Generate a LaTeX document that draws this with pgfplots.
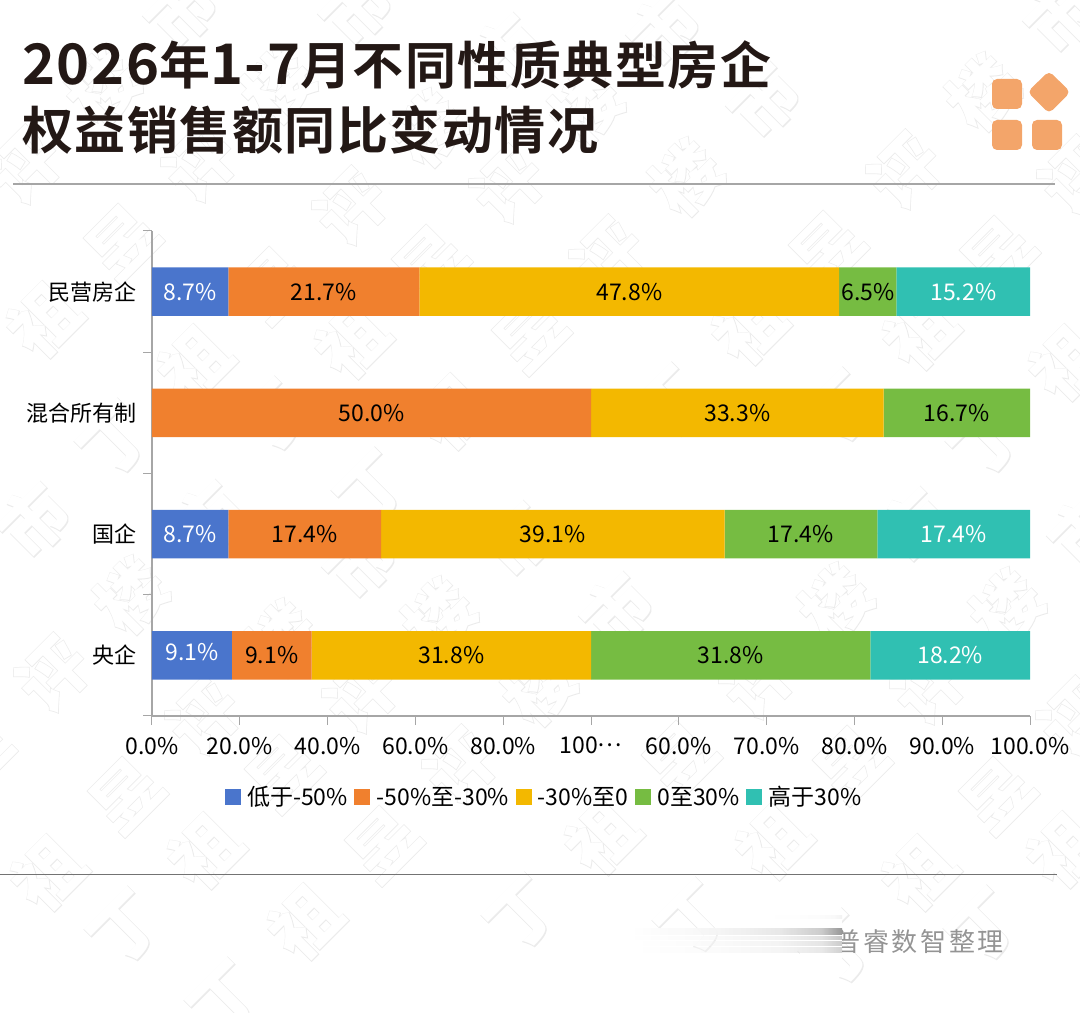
\documentclass[border=0pt]{standalone}
\usepackage{fontspec}
\usepackage{pgfplots}
\usepackage{pgfplotstable}
\pgfplotsset{compat=1.18}
\setmainfont{Noto Sans CJK SC}
\newfontfamily\titlefont[LetterSpace=2.95]{Noto Sans CJK SC Bold}
\newfontfamily\markbold[FakeBold=1.8]{Noto Sans CJK SC Black}
\newfontfamily\markfill{Noto Sans CJK SC Black}
\newfontfamily\notefont[LetterSpace=10]{Noto Sans CJK SC}
\definecolor{cBlue}{HTML}{4A75CC}
\definecolor{cOrange}{HTML}{F0802E}
\definecolor{cYellow}{HTML}{F3B800}
\definecolor{cGreen}{HTML}{76BC42}
\definecolor{cTeal}{HTML}{30C0B2}
\definecolor{cAxis}{HTML}{A6A6A6}
\definecolor{cLogo}{HTML}{F3A56A}
\definecolor{cTitle}{HTML}{231815}
\newcommand{\fs}[1]{\fontsize{#1}{#1}\selectfont}
\pgfdeclarehorizontalshading{smear}{100bp}{rgb(0bp)=(1,1,1); rgb(25bp)=(1,1,1); rgb(45bp)=(.96,.96,.96); rgb(60bp)=(.9,.9,.9); rgb(70bp)=(.78,.78,.78); rgb(75bp)=(.55,.55,.55); rgb(100bp)=(.55,.55,.55)}
% y a=below -50, b=-50..-30, c=-30..0, d=0..30, e=above 30
\pgfplotstableread{
y a b c d e
3 8.70 21.74 47.83 6.52 15.21
2 0 50.00 33.33 16.67 0
1 8.70 17.39 39.13 17.39 17.39
0 9.09 9.09 31.82 31.82 18.18
}\shares
\pgfplotsset{
  swatch/.style={legend image code/.code={\fill[#1] (0pt,-7.5pt) rectangle (15pt,7.5pt);}},
  samebox/.style={at={(152pt,297pt)},anchor=south west,scale only axis,width=878pt,height=485pt,
    xmin=0,xmax=100,ymin=-0.5,ymax=3.5},
  barlabel/.style={draw=none,mark=none,forget plot,point meta=explicit symbolic,
    nodes near coords={\pgfplotspointmeta\%},
    nodes near coords style={anchor=center,text=#1,font=\fs{23},inner sep=0pt}},
}
\begin{document}
\begin{tikzpicture}
\path[use as bounding box] (0pt,0pt) rectangle (1080pt,1013pt);
% watermark
\begin{scope}
\clip (0pt,0pt) rectangle (1080pt,1013pt);
\foreach \px/\py in {-278/832,-103/830,48/873,205/851,305/922,602/837,773/842,919/873,1064/850,
  -131/322,44/320,195/363,352/341,452/412,749/327,920/332,1066/363,1211/340}{
  \foreach \i/\ch in {0/丁,1/祖,2/昱,3/评,4/楼,5/市}{
    \node[rotate=45,inner sep=0pt,text=black!8] at ({(\px+(\i-1)*78)*1pt},{(1013-\py+(\i-1)*78)*1pt}) {\markbold\fs{68}\ch};
    \node[rotate=45,inner sep=0pt,text=white] at ({(\px+(\i-1)*78)*1pt},{(1013-\py+(\i-1)*78)*1pt}) {\markfill\fs{68}\ch};
  }
}
\end{scope}
% title
\node[anchor=base west,inner sep=0pt,text=cTitle] at (22pt,928pt) {\titlefont\fs{51}{\fs{56}2026}年{\fs{56}1-7}月不同性质典型房企};
\node[anchor=base west,inner sep=0pt,text=cTitle] at (22pt,863pt) {\titlefont\fs{51}权益销售额同比变动情况};
% logo
\fill[cLogo,rounded corners=5pt] (992pt,904pt) rectangle (1022pt,934pt);
\fill[cLogo,rounded corners=5pt] (992pt,863pt) rectangle (1022pt,893pt);
\fill[cLogo,rounded corners=5pt] (1032pt,863pt) rectangle (1062pt,893pt);
\fill[cLogo,rounded corners=5pt] (1049pt,942pt) -- (1070.5pt,921pt) -- (1049pt,899.5pt) -- (1027.5pt,921pt) -- cycle;
% rules
\draw[cAxis,line width=1.3pt] (13pt,829pt) -- (1055pt,829pt);
\draw[black!55,line width=1pt] (0pt,138pt) -- (1057pt,138pt);
\begin{axis}[
  samebox,
  xbar stacked,bar width=48.5pt,
  axis x line=bottom,axis y line=left,
  axis line style={draw=cAxis,line width=1.3pt,-},
  tick align=outside,
  major tick length=0pt,minor tick length=9pt,
  xtick={0,10,...,100},
  minor xtick={0,10,...,100},
  xticklabels={0.0\%,20.0\%,40.0\%,60.0\%,80.0\%,100\raisebox{7pt}{…},60.0\%,70.0\%,80.0\%,90.0\%,100.0\%},
  ytick={0,1,2,3},
  yticklabels={央企,国企,混合所有制,民营房企},
  minor ytick={-0.5,0.5,1.5,2.5,3.5},
  minor tick style={draw=cAxis,line width=1pt},
  tick label style={font=\fs{23}},
  yticklabel style={font=\fs{22},inner sep=0pt,xshift=-15pt},
  xticklabel style={inner sep=0pt,yshift=-21pt},
  legend style={at={(0.4465,-0.167)},anchor=center,draw=none,fill=none,font=\fs{23},
    legend columns=-1,inner sep=0pt,
    /tikz/every odd column/.append style={column sep=5pt},
    /tikz/every even column/.append style={column sep=4.5pt}},
  legend cell align=left,
]
\addplot[forget plot,fill=cBlue,draw=none] table[x=a,y=y]{\shares};
\addplot[forget plot,fill=cOrange,draw=none] table[x=b,y=y]{\shares};
\addplot[forget plot,fill=cYellow,draw=none] table[x=c,y=y]{\shares};
\addplot[forget plot,fill=cGreen,draw=none] table[x=d,y=y]{\shares};
\addplot[forget plot,fill=cTeal,draw=none] table[x=e,y=y]{\shares};
\addlegendimage{swatch=cBlue}
\addlegendimage{swatch=cOrange}
\addlegendimage{swatch=cYellow}
\addlegendimage{swatch=cGreen}
\addlegendimage{swatch=cTeal}
\legend{低于-50\%,-50\%至-30\%,-30\%至0,0至30\%,高于30\%}
\end{axis}
% value labels, at the middle of each segment
\begin{axis}[samebox,hide axis,clip=false]
\addplot[barlabel=white] table[x=x,y=y,meta=t]{
x y t
4.35 3 8.7
92.40 3 15.2
4.35 1 8.7
91.30 1 17.4
4.55 0.025 9.1
90.91 0 18.2
};
\addplot[barlabel=black] table[x=x,y=y,meta=t]{
x y t
19.57 3 21.7
54.36 3 47.8
81.53 3 6.5
25.00 2 50.0
66.67 2 33.3
91.67 2 16.7
17.40 1 17.4
45.66 1 39.1
73.91 1 17.4
13.64 0 9.1
34.09 0 31.8
65.91 0 31.8
};
\end{axis}
% source note, its left part smeared out in the original
\node[anchor=base east,inner sep=0pt,text=black!42] at (1004pt,61pt) {\notefont\fs{26}普睿数智整理};
\fill[white] (800pt,50pt) rectangle (842pt,102pt);
\shade[shading=smear,opacity=.9] (630pt,78pt) rectangle (842pt,84pt);
\shade[shading=smear,opacity=.5] (630pt,73pt) rectangle (842pt,76.5pt);
\shade[shading=smear,opacity=.45] (630pt,67pt) rectangle (842pt,71pt);
\shade[shading=smear,opacity=.4] (630pt,60pt) rectangle (842pt,65pt);
\shade[shading=smear,opacity=.1] (760pt,94pt) rectangle (842pt,97pt);
\end{tikzpicture}
\end{document}
